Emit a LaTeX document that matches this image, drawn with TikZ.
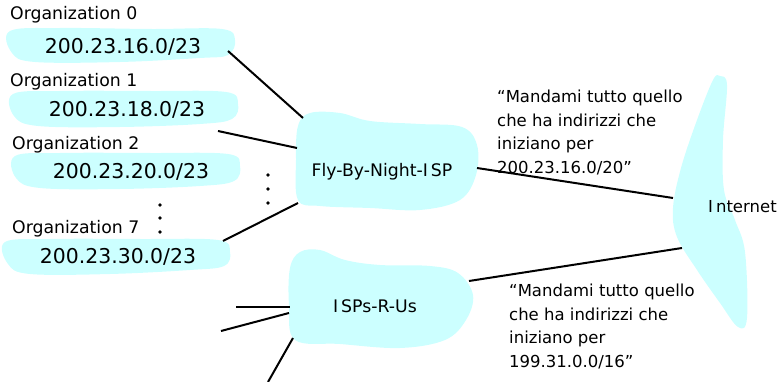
\documentclass[tikz,border=0pt]{standalone}
\usepackage{fontspec}
\setmainfont{DejaVu Sans}
\begin{document}
\begin{tikzpicture}[x=1pt,y=-1pt,
  cloud/.style={fill=cloudcyan,draw=none},
  link/.style={line width=2pt,black},
  lbl/.style={inner sep=0pt,font=\fontsize{17.3}{20}\selectfont},
  addr/.style={inner sep=0pt,font=\fontsize{20.4}{24}\selectfont},
  note/.style={inner sep=0pt,align=left,anchor=north west,font=\fontsize{16.5}{23.5}\selectfont},
  dot/.style={circle,fill=black,inner sep=0pt,minimum size=3.8pt}]
\definecolor{cloudcyan}{RGB}{204,255,255}
\useasboundingbox (0,0) rectangle (782,382);

% organization clouds
\fill[cloud] plot[smooth cycle,tension=0.6] coordinates {(10,31) (60,28) (150,29) (222,29) (235,40) (228,55) (200,58) (120,62) (35,62) (12,53)};
\fill[cloud] plot[smooth cycle,tension=0.6] coordinates {(13,94) (60,91) (150,91) (226,92) (238,104) (232,119) (200,124) (120,127) (38,126) (14,116)};
\fill[cloud] plot[smooth cycle,tension=0.6] coordinates {(15,156) (60,153) (150,153) (228,154) (240,166) (234,181) (200,186) (120,189) (40,188) (16,178)};
\fill[cloud] plot[smooth cycle,tension=0.6] coordinates {(5,242) (50,239) (140,239) (218,240) (230,252) (224,266) (190,270) (110,274) (30,274) (8,264)};

% ISP clouds
\fill[cloud] plot[smooth cycle,tension=0.6] coordinates {(298,126) (310,113) (340,113) (370,121) (420,124) (462,127) (477,145) (476,175) (460,200) (420,210) (370,208) (320,206) (298,200) (296,160)};
\fill[cloud] plot[smooth cycle,tension=0.6] coordinates {(290,268) (300,252) (320,250) (345,260) (380,265) (430,266) (458,273) (473,295) (466,320) (445,340) (400,348) (340,344) (295,340) (289,305)};

% Internet cloud
\fill[cloud] plot[smooth cycle,tension=0.6] coordinates {(713,80) (697,120) (681,168) (673,208) (677,237) (697,270) (720,303) (738,327) (747,318) (745,252) (735,220) (724,190) (723,140) (727,85) (720,76)};

% labels
\node[lbl,anchor=west] (o0) at (10,15) {Organization 0};
\node[lbl,anchor=west] (o1) at (10,82) {Organization 1};
\node[lbl,anchor=west] (o2) at (12,145) {Organization 2};
\node[lbl,anchor=west] (o7) at (12,229) {Organization 7};
\node[addr] (a0) at (123,47) {200.23.16.0/23};
\node[addr] (a1) at (127,110) {200.23.18.0/23};
\node[addr] (a2) at (131,172) {200.23.20.0/23};
\node[addr] (a7) at (118,257) {200.23.30.0/23};
\node[lbl] (fbn) at (382,172) {Fly-By-Night-I\kern3pt SP};
\node[lbl] (isp) at (375,306) {I\kern3pt SPs-R-Us};
\node[lbl,anchor=west,font=\fontsize{16.5}{20}\selectfont] (inet) at (708,207) {I\kern3pt nternet};

\node[note] (n1) at (497,90) {“Mandami tutto quello\\che ha indirizzi che\\iniziano per\\200.23.16.0/20”};
\node[note] (n2) at (509,284) {“Mandami tutto quello\\che ha indirizzi che\\iniziano per\\199.31.0.0/16”};

% dots
\node[dot] (d1) at (160,205) {};
\node[dot] (d2) at (160,218) {};
\node[dot] (d3) at (160,232) {};
\node[dot] (e1) at (268,175) {};
\node[dot] (e2) at (268,189) {};
\node[dot] (e3) at (268,203) {};

% connector end points
\coordinate (c0) at (228,51);
\coordinate (c0f) at (303,118);
\coordinate (c1) at (218,131);
\coordinate (c1f) at (297,148);
\coordinate (c7) at (223,241);
\coordinate (c7f) at (298,203);
\coordinate (fr) at (477,168);
\coordinate (il) at (673,198);
\coordinate (ir) at (469,281);
\coordinate (il2) at (682,248);
\coordinate (u1) at (236,307);
\coordinate (u1f) at (290,307);
\coordinate (u2) at (221,331);
\coordinate (u2f) at (289,313);
\coordinate (u3) at (268,382);
\coordinate (u3f) at (293,338);

\draw[link] (c0) -- (c0f);
\draw[link] (c1) -- (c1f);
\draw[link] (c7) -- (c7f);
\draw[link] (fr) -- (il);
\draw[link] (ir) -- (il2);
\draw[link] (u1) -- (u1f);
\draw[link] (u2) -- (u2f);
\draw[link] (u3) -- (u3f);
\end{tikzpicture}
\end{document}
